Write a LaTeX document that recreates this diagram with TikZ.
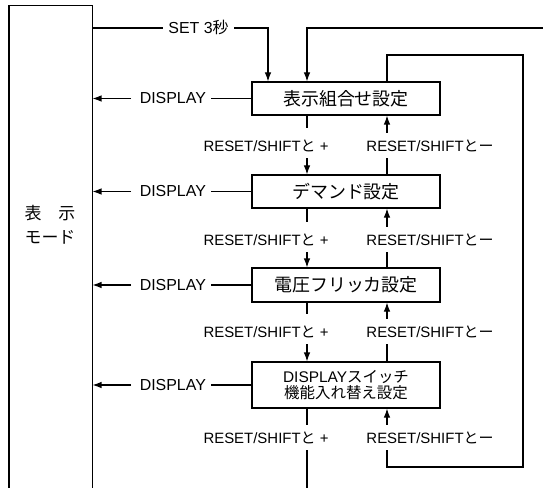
\documentclass[tikz,border=0pt]{standalone}
\usepackage{fontspec}
\setmainfont{Liberation Sans}
\newfontfamily\jp{Noto Sans CJK JP}
\usetikzlibrary{arrows.meta,calc}
\begin{document}
\begin{tikzpicture}[x=1bp,y=-1bp,
  line width=1.1bp,
  box/.style={draw, minimum width=188bp, inner sep=0pt, align=center},
  lbl/.style={inner xsep=0pt, inner ysep=0pt, text height=11bp, text depth=0bp, font=\fontsize{15}{17}\selectfont},
  dlbl/.style={inner xsep=5bp, inner ysep=0pt, text height=11bp, text depth=0bp, font=\fontsize{16}{18}\selectfont},
  arr/.style={-{Latex[length=9bp,width=6.5bp]}}
]
\useasboundingbox (0,0) rectangle (543,488);
% mode box (open at bottom)
\draw (9,490) -- (9,5.5) -- (92.5,5.5) -- (92.5,490);
\coordinate (mr) at (92.5,0);
\node[font={\fontsize{17}{24}\selectfont\jp}, align=center] (mode) at (50,225) {表　示\\モード};
% columns
\coordinate (dx) at (307,0);
\coordinate (ux) at (387,0);
\coordinate (sx) at (268,0);
% boxes
\node[box, minimum height=33bp, font={\fontsize{18}{20}\selectfont\jp}] (b1) at (346,98.5) {表示組合せ設定};
\node[box, minimum height=33bp, font={\fontsize{18}{20}\selectfont\jp}] (b2) at (346,191.5) {デマンド設定};
\node[box, minimum height=34bp, font={\fontsize{18}{20}\selectfont\jp}] (b3) at (346,285) {電圧フリッカ設定};
\node[box, minimum height=46bp, font={\fontsize{15.5}{16}\selectfont}] (b4) at (346,385) {DISPLAY{\jp スイッチ}\\{\jp 機能入れ替え設定}};
% DISPLAY labels
\foreach \i in {1,2,3,4}{
  \node[dlbl, anchor=east] (d\i) at ($(b\i.west)+(-40,0)$) {DISPLAY};
  \draw (b\i.west) -- (d\i.east);
  \draw[arr, shorten <=3bp] (d\i.west) -- (mr |- d\i.west);
}
% SET
\node[dlbl] (s) at (198.5,28) {SET 3{\jp 秒}};
\draw (mr |- s) -- (s.west);
\draw[arr] (s.east) -| (b1.north -| sx);
\coordinate (rin) at (543,28);
\draw[arr] (rin) -| (b1.north -| dx);
% step labels
\foreach \i/\y in {1/146,2/240,3/332,4/438}{
  \node[lbl] (p\i) at (266,\y) {RESET/SHIFT{\jp と} +};
  \node[lbl] (m\i) at (430,\y) {RESET/SHIFT{\jp とー}};
}
\foreach \a/\b/\i in {b1/b2/1,b2/b3/2,b3/b4/3}{
  \draw (\a.south -| dx) -- ($(p\i.north -| dx)+(0,-12)$);
  \draw[arr] ($(p\i.south -| dx)+(0,6)$) -- (\b.north -| dx);
  \draw (\b.north -| ux) -- ($(m\i.south -| ux)+(0,6)$);
  \draw[arr] ($(m\i.north -| ux)+(0,-7)$) -- (\a.south -| ux);
}
% bottom
\coordinate (bot) at (307,488);
\draw (b4.south -| dx) -- ($(p4.north -| dx)+(0,-7)$);
\draw ($(p4.south -| dx)+(0,6)$) -- (bot);
% loop
\coordinate (lt) at (523,55);
\coordinate (lb) at (523,467);
\draw (b1.north -| ux) -- (ux |- lt) -- (lt) -- (lb) -- (ux |- lb) -- ($(m4.south -| ux)+(0,6)$);
\draw[arr] ($(m4.north -| ux)+(0,-7)$) -- (b4.south -| ux);
\end{tikzpicture}
\end{document}
